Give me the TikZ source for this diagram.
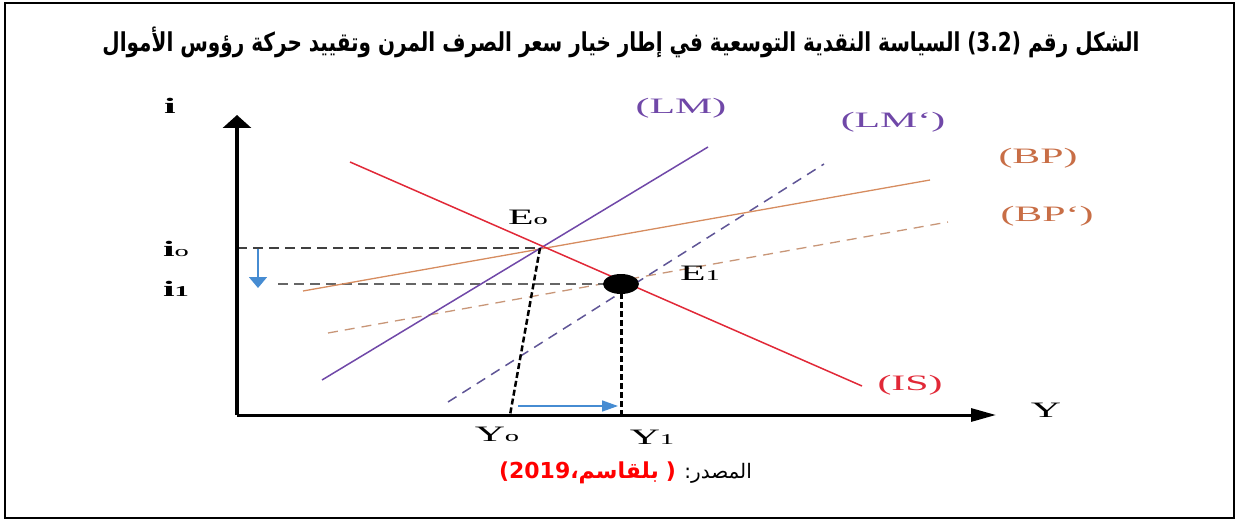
\documentclass[tikz,border=0pt]{standalone}
\usepackage{fontspec}
\setmainfont{Liberation Serif}
\newfontfamily\arabicfont[Script=Arabic]{DejaVu Sans}
\newfontfamily\latinsans{DejaVu Sans}
\TeXXeTstate=1
\usetikzlibrary{arrows.meta}
\definecolor{lmcol}{RGB}{112,72,168}
\definecolor{lmdash}{RGB}{95,85,150}
\definecolor{iscol}{RGB}{225,40,55}
\definecolor{bpcol}{RGB}{214,140,95}
\definecolor{bplbl}{RGB}{200,110,70}
\definecolor{bpdash}{RGB}{200,150,120}
\definecolor{arrblue}{RGB}{70,140,210}
\definecolor{srcred}{RGB}{255,0,0}
\newcommand{\widetxt}[1]{\scalebox{1.9}[1]{#1}}
\newcommand{\sbs}[1]{{\fontsize{15}{16}\selectfont #1}}
\tikzset{
  lbl/.style={font=\fontsize{22}{24}\selectfont, inner sep=0pt},
  axis/.style={line width=3.5pt, black},
  guide/.style={dash pattern=on 10pt off 6pt, line width=1.3pt, black!75},
  drop/.style={line width=3pt, dash pattern=on 6pt off 3pt, black},
  shiftarrow/.style={line width=1.6pt, arrblue},
}
\begin{document}
\begin{tikzpicture}[x=1pt,y=-1pt]
\useasboundingbox (0,0) rectangle (1238,521);
% frame
\draw[line width=2.5pt] (5,3) rectangle (1234,518);
% title
\node[font=\arabicfont\bfseries\fontsize{20}{24}\selectfont, inner sep=0pt] (title) at (621,42)
  {\scalebox{1}[1.3]{\beginR الشكل رقم (\beginL 3.2\endL{}) السياسة النقدية التوسعية في إطار خيار سعر الصرف المرن وتقييد حركة رؤوس الأموال\endR}};
% key points
\coordinate (O) at (237,415);
\coordinate (ytip) at (237,115);
\coordinate (xtip) at (996,415);
\coordinate (E0) at (540,248);
\coordinate (E1) at (621,284);
\coordinate (Y0) at (510,415);
\coordinate (Y1) at (621,415);
\coordinate (i0) at (237,248);
% curves
\coordinate (ISa) at (350,162);
\coordinate (ISb) at (862,386);
\coordinate (LMa) at (322,380);
\coordinate (LMb) at (708,147);
\coordinate (LMpa) at (448,402);
\coordinate (LMpb) at (824,164);
\coordinate (BPa) at (303,291);
\coordinate (BPb) at (930,180);
\coordinate (BPpa) at (328,333);
\coordinate (BPpb) at (948,222);
\coordinate (i1a) at (278,284);
\coordinate (bluetop) at (258,249);
\coordinate (bluebot) at (258,288);
\coordinate (harrA) at (518,406);
\coordinate (harrB) at (618,406);
% dashed lines
\draw[bpdash, line width=1.3pt, dash pattern=on 10pt off 7pt] (BPpa) -- (BPpb);
\draw[lmdash, line width=1.5pt, dash pattern=on 10pt off 7pt] (LMpa) -- (LMpb);
\draw[guide] (i0) -- (E0);
\draw[guide, black!60] (i1a) -- (E1);
% solid curves
\draw[bpcol, line width=1.3pt] (BPa) -- (BPb);
\draw[lmcol, line width=1.5pt] (LMa) -- (LMb);
\draw[iscol, line width=1.5pt] (ISa) -- (ISb);
% drop lines
\draw[drop, line width=2.5pt] (E0) -- (Y0);
\draw[drop] (E1) -- (Y1);
% axes
\draw[axis, -{Triangle[length=13pt,width=28pt]}] (O) -- (ytip);
\draw[line width=3pt, -{Triangle[length=25pt,width=13pt]}] (O) -- (xtip);
% shift arrows
\draw[shiftarrow, -{Triangle[length=11pt,width=18pt]}] (bluetop) -- (bluebot);
\draw[shiftarrow, -{Triangle[length=16pt,width=11pt]}] (harrA) -- (harrB);
% E1 dot
\fill[black] (E1) ellipse [x radius=18pt, y radius=10pt];
% labels
\node[lbl] (li) at (170,106) {\widetxt{\textbf{i}}};
\node[lbl] (li0) at (176,249) {\widetxt{\textbf{i}\sbs{o}}};
\node[lbl] (li1) at (176,289) {\widetxt{\textbf{i}\sbs{\textbf{1}}}};
\node[lbl] (lY) at (1046,410) {\widetxt{Y}};
\node[lbl] (lY0) at (497,434) {\widetxt{Y\sbs{o}}};
\node[lbl] (lY1) at (652,437) {\widetxt{Y\sbs{1}}};
\node[lbl] (lE0) at (528,217) {\widetxt{E\sbs{o}}};
\node[lbl] (lE1) at (700,273) {\widetxt{E\sbs{1}}};
\node[lbl, text=lmcol] (lLM) at (681,108) {\widetxt{(LM)}};
\node[lbl, text=lmcol] (lLMp) at (893,122) {\widetxt{(LM`)}};
\node[lbl, text=bplbl] (lBP) at (1038,158) {\widetxt{(BP)}};
\node[lbl, text=bplbl] (lBPp) at (1047,216) {\widetxt{(BP`)}};
\node[lbl, text=iscol] (lIS) at (910,385) {\widetxt{(IS)}};
% source
\node[font=\arabicfont\fontsize{20}{24}\selectfont, inner sep=0pt, anchor=east] (src) at (752,473)
  {\beginR المصدر:\endR};
\node[font=\bfseries\fontsize{22}{26}\selectfont, text=srcred, inner sep=0pt, anchor=east] (srcred) at ([xshift=-8pt]src.west)
  {\hbox{\latinsans\bfseries (2019}\hbox{\arabicfont\bfseries\beginR بلقاسم،\endR}\hspace{7pt}\hbox{\latinsans\bfseries )}};
\end{tikzpicture}
\end{document}
